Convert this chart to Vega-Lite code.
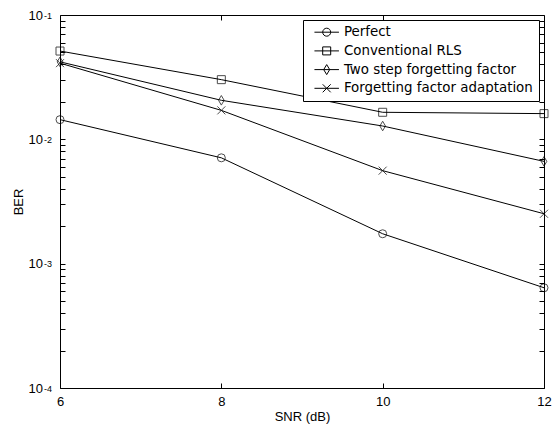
{
  "$schema": "https://vega.github.io/schema/vega-lite/v6.json",
  "autosize": "none",
  "width": 484,
  "height": 373,
  "padding": {"left": 60, "top": 15, "right": 11, "bottom": 40},
  "background": "white",
  "config": {
    "view": {"stroke": "black", "strokeWidth": 1},
    "font": "Liberation Sans",
    "axis": {"grid": false, "domain": false, "labelFont": "Liberation Sans", "titleFont": "Liberation Sans", "labelColor": "black", "titleColor": "black", "tickColor": "black", "labelFontSize": 13, "titleFontSize": 13, "titleFontWeight": "normal", "labelFlush": false, "labelOverlap": false}
  },
  "data": {"values": [
    {"snr": 6, "ber": 0.0144, "method": "Perfect"},
    {"snr": 8, "ber": 0.0071, "method": "Perfect"},
    {"snr": 10, "ber": 0.00174, "method": "Perfect"},
    {"snr": 12, "ber": 0.00064, "method": "Perfect"},
    {"snr": 6, "ber": 0.0513, "method": "Conventional RLS"},
    {"snr": 8, "ber": 0.0302, "method": "Conventional RLS"},
    {"snr": 10, "ber": 0.0165, "method": "Conventional RLS"},
    {"snr": 12, "ber": 0.0161, "method": "Conventional RLS"},
    {"snr": 6, "ber": 0.042, "method": "Two step forgetting factor"},
    {"snr": 8, "ber": 0.0206, "method": "Two step forgetting factor"},
    {"snr": 10, "ber": 0.0128, "method": "Two step forgetting factor"},
    {"snr": 12, "ber": 0.00665, "method": "Two step forgetting factor"},
    {"snr": 6, "ber": 0.041, "method": "Forgetting factor adaptation"},
    {"snr": 8, "ber": 0.0171, "method": "Forgetting factor adaptation"},
    {"snr": 10, "ber": 0.0056, "method": "Forgetting factor adaptation"},
    {"snr": 12, "ber": 0.00252, "method": "Forgetting factor adaptation"}
  ]},
  "resolve": {"axis": {"x": "independent", "y": "independent"}, "scale": {"shape": "independent"}, "legend": {"shape": "independent"}},
  "layer": [
    {
      "mark": {"type": "line", "color": "black", "strokeWidth": 1},
      "encoding": {
        "x": {"field": "snr", "type": "quantitative", "scale": {"domain": [6, 12], "nice": false, "zero": false},
              "axis": {"orient": "bottom", "values": [6, 8, 10, 12], "tickSize": -5, "labelPadding": 12, "title": "SNR (dB)", "titlePadding": 2}},
        "y": {"field": "ber", "type": "quantitative", "scale": {"type": "log", "domain": [0.0001, 0.1], "nice": false},
              "axis": {"orient": "left", "values": [0.0001,0.0002,0.0003,0.0004,0.0005,0.0006,0.0007,0.0008,0.0009,0.001,0.002,0.003,0.004,0.005,0.006,0.007,0.008,0.009,0.01,0.02,0.03,0.04,0.05,0.06,0.07,0.08,0.09,0.1],
                       "tickSize": -5, "labelPadding": 22.5, "labelDy": -2, "labelExpr": "(datum.value == 0.1 || datum.value == 0.01 || datum.value == 0.001 || datum.value == 0.0001) ? '10' : ''",
                       "title": "BER", "titlePadding": 3}},
        "detail": {"field": "method"}
      }
    },
    {
      "mark": {"type": "point", "filled": false, "stroke": "black", "strokeWidth": 1, "size": 64},
      "encoding": {
        "x": {"field": "snr", "type": "quantitative",
              "axis": {"orient": "top", "values": [8, 10], "tickSize": -5, "labels": false, "title": null}},
        "y": {"field": "ber", "type": "quantitative",
              "axis": {"orient": "right", "values": [0.0001,0.0002,0.0003,0.0004,0.0005,0.0006,0.0007,0.0008,0.0009,0.001,0.002,0.003,0.004,0.005,0.006,0.007,0.008,0.009,0.01,0.02,0.03,0.04,0.05,0.06,0.07,0.08,0.09,0.1],
                       "tickSize": -5, "labels": false, "title": null}},
        "shape": {"field": "method", "type": "nominal",
                  "scale": {"domain": ["Perfect", "Conventional RLS", "Two step forgetting factor", "Forgetting factor adaptation"],
                            "range": ["circle", "square", "M0,-1.2L0.7,0L0,1.2L-0.7,0Z", "M-1,-1L1,1M-1,1L1,-1"]},
                  "legend": null}
      }
    },
    {
      "mark": {"type": "point", "opacity": 0, "filled": false, "stroke": "black"},
      "encoding": {
        "x": {"field": "snr", "type": "quantitative", "axis": null},
        "y": {"field": "ber", "type": "quantitative",
              "axis": {"orient": "left", "values": [0.0001, 0.001, 0.01, 0.1], "ticks": false, "labelPadding": 16.5, "labelAlign": "left", "labelFontSize": 9, "labelDy": -7,
                       "labelExpr": "datum.value == 0.1 ? '-1' : datum.value == 0.01 ? '-2' : datum.value == 0.001 ? '-3' : '-4'", "title": null}},
        "shape": {"field": "method", "type": "nominal",
                  "scale": {"domain": ["Perfect", "Conventional RLS", "Two step forgetting factor", "Forgetting factor adaptation"],
                            "range": ["M-2.45,0H2.45M-0.8,0A0.8,0.8 0 1,0 0.8,0A0.8,0.8 0 1,0 -0.8,0", "M-2.45,0H2.45M-0.8,-0.8H0.8V0.8H-0.8Z", "M-2.45,0H2.45M0,-1L0.6,0L0,1L-0.6,0Z", "M-2.45,0H2.45M-0.8,-0.8L0.8,0.8M-0.8,0.8L0.8,-0.8"]},
                  "legend": {"title": null, "orient": "none", "legendX": 243, "legendY": 5, "strokeColor": "black", "fillColor": "white", "padding": 5.5, "cornerRadius": 0,
                             "labelFont": "DejaVu Sans", "labelFontSize": 13.4, "labelColor": "black", "symbolSize": 100, "symbolStrokeWidth": 1, "symbolStrokeColor": "black", "symbolFillColor": "transparent", "symbolOpacity": 1,
                             "symbolOffset": 11.5, "labelOffset": 10.5, "rowPadding": 3.7, "labelLimit": 400}}
      }
    }
  ]
}
